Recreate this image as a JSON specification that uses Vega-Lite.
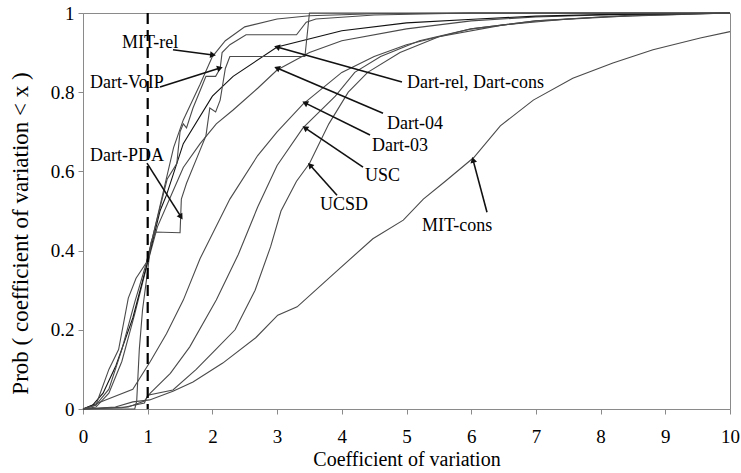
{
  "$schema": "https://vega.github.io/schema/vega-lite/v6.json",
  "autosize": "none",
  "width": 647,
  "height": 396,
  "padding": {"left": 83, "top": 13, "right": 11, "bottom": 64},
  "background": "white",
  "config": {
    "view": {"stroke": "#8a8a8a", "strokeWidth": 1},
    "font": "'Liberation Serif', 'Times New Roman', serif",
    "axis": {"labelFont": "'Liberation Serif', 'Times New Roman', serif", "titleFont": "'Liberation Serif', 'Times New Roman', serif", "labelColor": "#000", "titleColor": "#000", "titleFontWeight": "normal", "domainColor": "#8a8a8a", "tickColor": "#8a8a8a", "grid": false, "tickSize": 5}
  },
  "datasets": {
    "curves": [
      {"series":"MIT-cons","x":0,"y":0},{"series":"MIT-cons","x":0.5,"y":0.005},{"series":"MIT-cons","x":0.77,"y":0.018},{"series":"MIT-cons","x":1.03,"y":0.023},{"series":"MIT-cons","x":1.39,"y":0.045},{"series":"MIT-cons","x":1.7,"y":0.068},{"series":"MIT-cons","x":2.16,"y":0.116},{"series":"MIT-cons","x":2.67,"y":0.18},{"series":"MIT-cons","x":3.01,"y":0.237},{"series":"MIT-cons","x":3.31,"y":0.258},{"series":"MIT-cons","x":3.9,"y":0.345},{"series":"MIT-cons","x":4.48,"y":0.43},{"series":"MIT-cons","x":4.95,"y":0.477},{"series":"MIT-cons","x":5.26,"y":0.53},{"series":"MIT-cons","x":5.6,"y":0.575},{"series":"MIT-cons","x":6.04,"y":0.635},{"series":"MIT-cons","x":6.45,"y":0.715},{"series":"MIT-cons","x":6.96,"y":0.78},{"series":"MIT-cons","x":7.57,"y":0.835},{"series":"MIT-cons","x":8.19,"y":0.874},{"series":"MIT-cons","x":8.81,"y":0.907},{"series":"MIT-cons","x":9.54,"y":0.937},{"series":"MIT-cons","x":10,"y":0.953},

      {"series":"UCSD","x":0,"y":0},{"series":"UCSD","x":0.6,"y":0.003},{"series":"UCSD","x":0.95,"y":0.015},{"series":"UCSD","x":1.0,"y":0.035},{"series":"UCSD","x":1.39,"y":0.048},{"series":"UCSD","x":1.75,"y":0.1},{"series":"UCSD","x":2.05,"y":0.15},{"series":"UCSD","x":2.35,"y":0.2},{"series":"UCSD","x":2.66,"y":0.3},{"series":"UCSD","x":2.9,"y":0.41},{"series":"UCSD","x":3.06,"y":0.5},{"series":"UCSD","x":3.3,"y":0.575},{"series":"UCSD","x":3.5,"y":0.62},{"series":"UCSD","x":3.8,"y":0.72},{"series":"UCSD","x":4.1,"y":0.8},{"series":"UCSD","x":4.4,"y":0.85},{"series":"UCSD","x":4.9,"y":0.9},{"series":"UCSD","x":5.5,"y":0.94},{"series":"UCSD","x":6.5,"y":0.97},{"series":"UCSD","x":7.5,"y":0.985},{"series":"UCSD","x":8.5,"y":0.995},{"series":"UCSD","x":10,"y":1},

      {"series":"USC","x":0,"y":0},{"series":"USC","x":0.7,"y":0.005},{"series":"USC","x":0.95,"y":0.02},{"series":"USC","x":1.04,"y":0.04},{"series":"USC","x":1.35,"y":0.09},{"series":"USC","x":1.65,"y":0.157},{"series":"USC","x":2.06,"y":0.275},{"series":"USC","x":2.4,"y":0.39},{"series":"USC","x":2.7,"y":0.51},{"series":"USC","x":3.0,"y":0.615},{"series":"USC","x":3.4,"y":0.71},{"series":"USC","x":3.9,"y":0.79},{"series":"USC","x":4.2,"y":0.85},{"series":"USC","x":4.6,"y":0.89},{"series":"USC","x":5.2,"y":0.93},{"series":"USC","x":6,"y":0.96},{"series":"USC","x":7,"y":0.98},{"series":"USC","x":8.5,"y":0.993},{"series":"USC","x":10,"y":1},

      {"series":"Dart-03","x":0,"y":0},{"series":"Dart-03","x":0.31,"y":0.02},{"series":"Dart-03","x":0.77,"y":0.05},{"series":"Dart-03","x":1.04,"y":0.12},{"series":"Dart-03","x":1.29,"y":0.19},{"series":"Dart-03","x":1.55,"y":0.275},{"series":"Dart-03","x":1.81,"y":0.38},{"series":"Dart-03","x":2.27,"y":0.53},{"series":"Dart-03","x":2.7,"y":0.64},{"series":"Dart-03","x":3.0,"y":0.7},{"series":"Dart-03","x":3.4,"y":0.77},{"series":"Dart-03","x":4.0,"y":0.85},{"series":"Dart-03","x":4.5,"y":0.89},{"series":"Dart-03","x":5,"y":0.92},{"series":"Dart-03","x":6,"y":0.96},{"series":"Dart-03","x":7,"y":0.98},{"series":"Dart-03","x":8,"y":0.99},{"series":"Dart-03","x":10,"y":1},

      {"series":"Dart-04","x":0,"y":0},{"series":"Dart-04","x":0.2,"y":0.005},{"series":"Dart-04","x":0.4,"y":0.04},{"series":"Dart-04","x":0.6,"y":0.12},{"series":"Dart-04","x":0.8,"y":0.24},{"series":"Dart-04","x":1.0,"y":0.37},{"series":"Dart-04","x":1.15,"y":0.46},{"series":"Dart-04","x":1.39,"y":0.55},{"series":"Dart-04","x":1.55,"y":0.61},{"series":"Dart-04","x":1.81,"y":0.67},{"series":"Dart-04","x":2.06,"y":0.72},{"series":"Dart-04","x":2.32,"y":0.755},{"series":"Dart-04","x":2.7,"y":0.81},{"series":"Dart-04","x":3.0,"y":0.856},{"series":"Dart-04","x":3.5,"y":0.9},{"series":"Dart-04","x":4,"y":0.93},{"series":"Dart-04","x":5,"y":0.96},{"series":"Dart-04","x":6,"y":0.98},{"series":"Dart-04","x":7,"y":0.99},{"series":"Dart-04","x":8,"y":0.995},{"series":"Dart-04","x":10,"y":1},

      {"series":"Dart-rel","x":0,"y":0},{"series":"Dart-rel","x":0.15,"y":0.01},{"series":"Dart-rel","x":0.31,"y":0.04},{"series":"Dart-rel","x":0.51,"y":0.11},{"series":"Dart-rel","x":0.77,"y":0.23},{"series":"Dart-rel","x":0.98,"y":0.36},{"series":"Dart-rel","x":1.19,"y":0.5},{"series":"Dart-rel","x":1.29,"y":0.54},{"series":"Dart-rel","x":1.55,"y":0.67},{"series":"Dart-rel","x":2.0,"y":0.79},{"series":"Dart-rel","x":2.32,"y":0.84},{"series":"Dart-rel","x":3.0,"y":0.914},{"series":"Dart-rel","x":4.0,"y":0.955},{"series":"Dart-rel","x":5,"y":0.975},{"series":"Dart-rel","x":6.1,"y":0.985},{"series":"Dart-rel","x":7,"y":0.992},{"series":"Dart-rel","x":8,"y":0.996},{"series":"Dart-rel","x":10,"y":1},

      {"series":"MIT-rel","x":0,"y":0},{"series":"MIT-rel","x":0.2,"y":0.01},{"series":"MIT-rel","x":0.4,"y":0.05},{"series":"MIT-rel","x":0.6,"y":0.15},{"series":"MIT-rel","x":0.8,"y":0.27},{"series":"MIT-rel","x":1.0,"y":0.38},{"series":"MIT-rel","x":1.2,"y":0.52},{"series":"MIT-rel","x":1.4,"y":0.66},{"series":"MIT-rel","x":1.55,"y":0.73},{"series":"MIT-rel","x":1.81,"y":0.82},{"series":"MIT-rel","x":2.0,"y":0.89},{"series":"MIT-rel","x":2.2,"y":0.93},{"series":"MIT-rel","x":2.5,"y":0.965},{"series":"MIT-rel","x":3.0,"y":0.985},{"series":"MIT-rel","x":3.5,"y":0.993},{"series":"MIT-rel","x":4.5,"y":0.998},{"series":"MIT-rel","x":6,"y":1},{"series":"MIT-rel","x":10,"y":1},

      {"series":"Dart-VoIP","x":0,"y":0},{"series":"Dart-VoIP","x":0.2,"y":0.01},{"series":"Dart-VoIP","x":0.4,"y":0.1},{"series":"Dart-VoIP","x":0.55,"y":0.15},{"series":"Dart-VoIP","x":0.7,"y":0.28},{"series":"Dart-VoIP","x":0.82,"y":0.33},{"series":"Dart-VoIP","x":0.98,"y":0.37},{"series":"Dart-VoIP","x":1.1,"y":0.45},{"series":"Dart-VoIP","x":1.3,"y":0.58},{"series":"Dart-VoIP","x":1.45,"y":0.62},{"series":"Dart-VoIP","x":1.5,"y":0.7},{"series":"Dart-VoIP","x":1.55,"y":0.72},{"series":"Dart-VoIP","x":1.6,"y":0.71},{"series":"Dart-VoIP","x":1.7,"y":0.76},{"series":"Dart-VoIP","x":1.8,"y":0.8},{"series":"Dart-VoIP","x":1.9,"y":0.84},{"series":"Dart-VoIP","x":2.05,"y":0.84},{"series":"Dart-VoIP","x":2.12,"y":0.86},{"series":"Dart-VoIP","x":2.15,"y":0.9},{"series":"Dart-VoIP","x":2.27,"y":0.92},{"series":"Dart-VoIP","x":2.52,"y":0.945},{"series":"Dart-VoIP","x":3.3,"y":0.945},{"series":"Dart-VoIP","x":3.45,"y":0.977},{"series":"Dart-VoIP","x":3.6,"y":0.985},{"series":"Dart-VoIP","x":4.5,"y":0.995},{"series":"Dart-VoIP","x":6,"y":1},{"series":"Dart-VoIP","x":10,"y":1},

      {"series":"Dart-PDA","x":0,"y":0},{"series":"Dart-PDA","x":0.8,"y":0},{"series":"Dart-PDA","x":0.83,"y":0.02},{"series":"Dart-PDA","x":0.87,"y":0.15},{"series":"Dart-PDA","x":0.92,"y":0.25},{"series":"Dart-PDA","x":1.0,"y":0.35},{"series":"Dart-PDA","x":1.05,"y":0.42},{"series":"Dart-PDA","x":1.11,"y":0.447},{"series":"Dart-PDA","x":1.5,"y":0.445},{"series":"Dart-PDA","x":1.52,"y":0.53},{"series":"Dart-PDA","x":1.6,"y":0.57},{"series":"Dart-PDA","x":1.8,"y":0.65},{"series":"Dart-PDA","x":1.9,"y":0.69},{"series":"Dart-PDA","x":1.96,"y":0.76},{"series":"Dart-PDA","x":2.05,"y":0.75},{"series":"Dart-PDA","x":2.12,"y":0.78},{"series":"Dart-PDA","x":2.2,"y":0.86},{"series":"Dart-PDA","x":2.27,"y":0.89},{"series":"Dart-PDA","x":3.43,"y":0.89},{"series":"Dart-PDA","x":3.5,"y":1},{"series":"Dart-PDA","x":10,"y":1}
    ],
    "arrows": [
      {"label":"MIT-rel","x":1.391,"y":0.907,"x2":2.009,"y2":0.894},
      {"label":"Dart-VoIP","x":1.19,"y":0.813,"x2":2.117,"y2":0.861},
      {"label":"Dart-PDA","x":0.989,"y":0.621,"x2":1.515,"y2":0.485},
      {"label":"Dart-rel, Dart-cons","x":4.93,"y":0.826,"x2":2.998,"y2":0.914},
      {"label":"Dart-04","x":4.637,"y":0.747,"x2":2.998,"y2":0.861},
      {"label":"Dart-03","x":4.436,"y":0.692,"x2":3.431,"y2":0.773},
      {"label":"USC","x":4.328,"y":0.611,"x2":3.431,"y2":0.71},
      {"label":"UCSD","x":3.926,"y":0.54,"x2":3.508,"y2":0.616},
      {"label":"MIT-cons","x":6.244,"y":0.497,"x2":6.028,"y2":0.629}
    ],
    "labels": [
      {"label":"MIT-rel","x":0.603,"y":0.924},
      {"label":"Dart-VoIP","x":0.108,"y":0.823},
      {"label":"Dart-PDA","x":0.108,"y":0.639},
      {"label":"Dart-rel, Dart-cons","x":5.008,"y":0.823},
      {"label":"Dart-04","x":4.699,"y":0.72},
      {"label":"Dart-03","x":4.467,"y":0.664},
      {"label":"USC","x":4.359,"y":0.588},
      {"label":"UCSD","x":3.663,"y":0.515},
      {"label":"MIT-cons","x":5.24,"y":0.462}
    ]
  },
  "layer": [
    {
      "data": {"name": "curves"},
      "mark": {"type": "line", "interpolate": "linear"},
      "encoding": {
        "x": {"field": "x", "type": "quantitative", "scale": {"domain": [0, 10], "nice": false},
              "axis": {"title": "Coefficient of variation", "values": [0,1,2,3,4,5,6,7,8,9,10], "format": "d", "labelFontSize": 19, "titleFontSize": 20, "labelPadding": 13, "titlePadding": 3, "labelFlush": false}},
        "y": {"field": "y", "type": "quantitative", "scale": {"domain": [0, 1], "nice": false},
              "axis": {"title": "Prob ( coefficient of variation < x )", "values": [0,0.1,0.2,0.3,0.4,0.5,0.6,0.7,0.8,0.9,1], "format": "~g", "labelFontSize": 19, "titleFontSize": 23, "labelPadding": 4, "titlePadding": 18, "titleY": 220, "labelFlush": false}},
        "detail": {"field": "series"},
        "color": {"field": "series", "type": "nominal", "legend": null,
                  "scale": {"domain": ["MIT-cons","UCSD","USC","Dart-03","Dart-04","Dart-rel","MIT-rel","Dart-VoIP","Dart-PDA"],
                            "range": ["#4a4a4a","#4a4a4a","#4a4a4a","#4a4a4a","#4a4a4a","#111111","#4a4a4a","#4a4a4a","#4a4a4a"]}},
        "strokeWidth": {"field": "series", "type": "nominal", "legend": null,
                  "scale": {"domain": ["MIT-cons","UCSD","USC","Dart-03","Dart-04","Dart-rel","MIT-rel","Dart-VoIP","Dart-PDA"],
                            "range": [1.1,1.1,1.1,1.1,1.1,1.8,1.1,1.1,1.1]}}
      }
    },
    {
      "data": {"values": [{}]},
      "mark": {"type": "rule", "color": "#000", "strokeWidth": 2.2, "strokeDash": [11, 6]},
      "encoding": {"x": {"datum": 1}}
    },
    {
      "data": {"name": "arrows"},
      "mark": {"type": "rule", "color": "#111", "strokeWidth": 1.6},
      "encoding": {
        "x": {"field": "x", "type": "quantitative"},
        "y": {"field": "y", "type": "quantitative"},
        "x2": {"field": "x2"},
        "y2": {"field": "y2"}
      }
    },
    {
      "data": {"name": "arrows"},
      "transform": [{"calculate": "(atan2((datum.x2 - datum.x) * 64.7, (datum.y2 - datum.y) * 396) * 180 / PI + 360) % 360", "as": "ang"}],
      "mark": {"type": "point", "shape": "triangle-up", "filled": true, "color": "#111", "opacity": 1, "size": 45, "strokeWidth": 0},
      "encoding": {
        "x": {"field": "x2", "type": "quantitative"},
        "y": {"field": "y2", "type": "quantitative"},
        "angle": {"field": "ang", "type": "quantitative", "scale": null}
      }
    },
    {
      "data": {"name": "labels"},
      "mark": {"type": "text", "align": "left", "baseline": "middle", "font": "'Liberation Serif', 'Times New Roman', serif", "fontSize": 18, "color": "#000"},
      "encoding": {
        "x": {"field": "x", "type": "quantitative"},
        "y": {"field": "y", "type": "quantitative"},
        "text": {"field": "label"}
      }
    }
  ]
}
